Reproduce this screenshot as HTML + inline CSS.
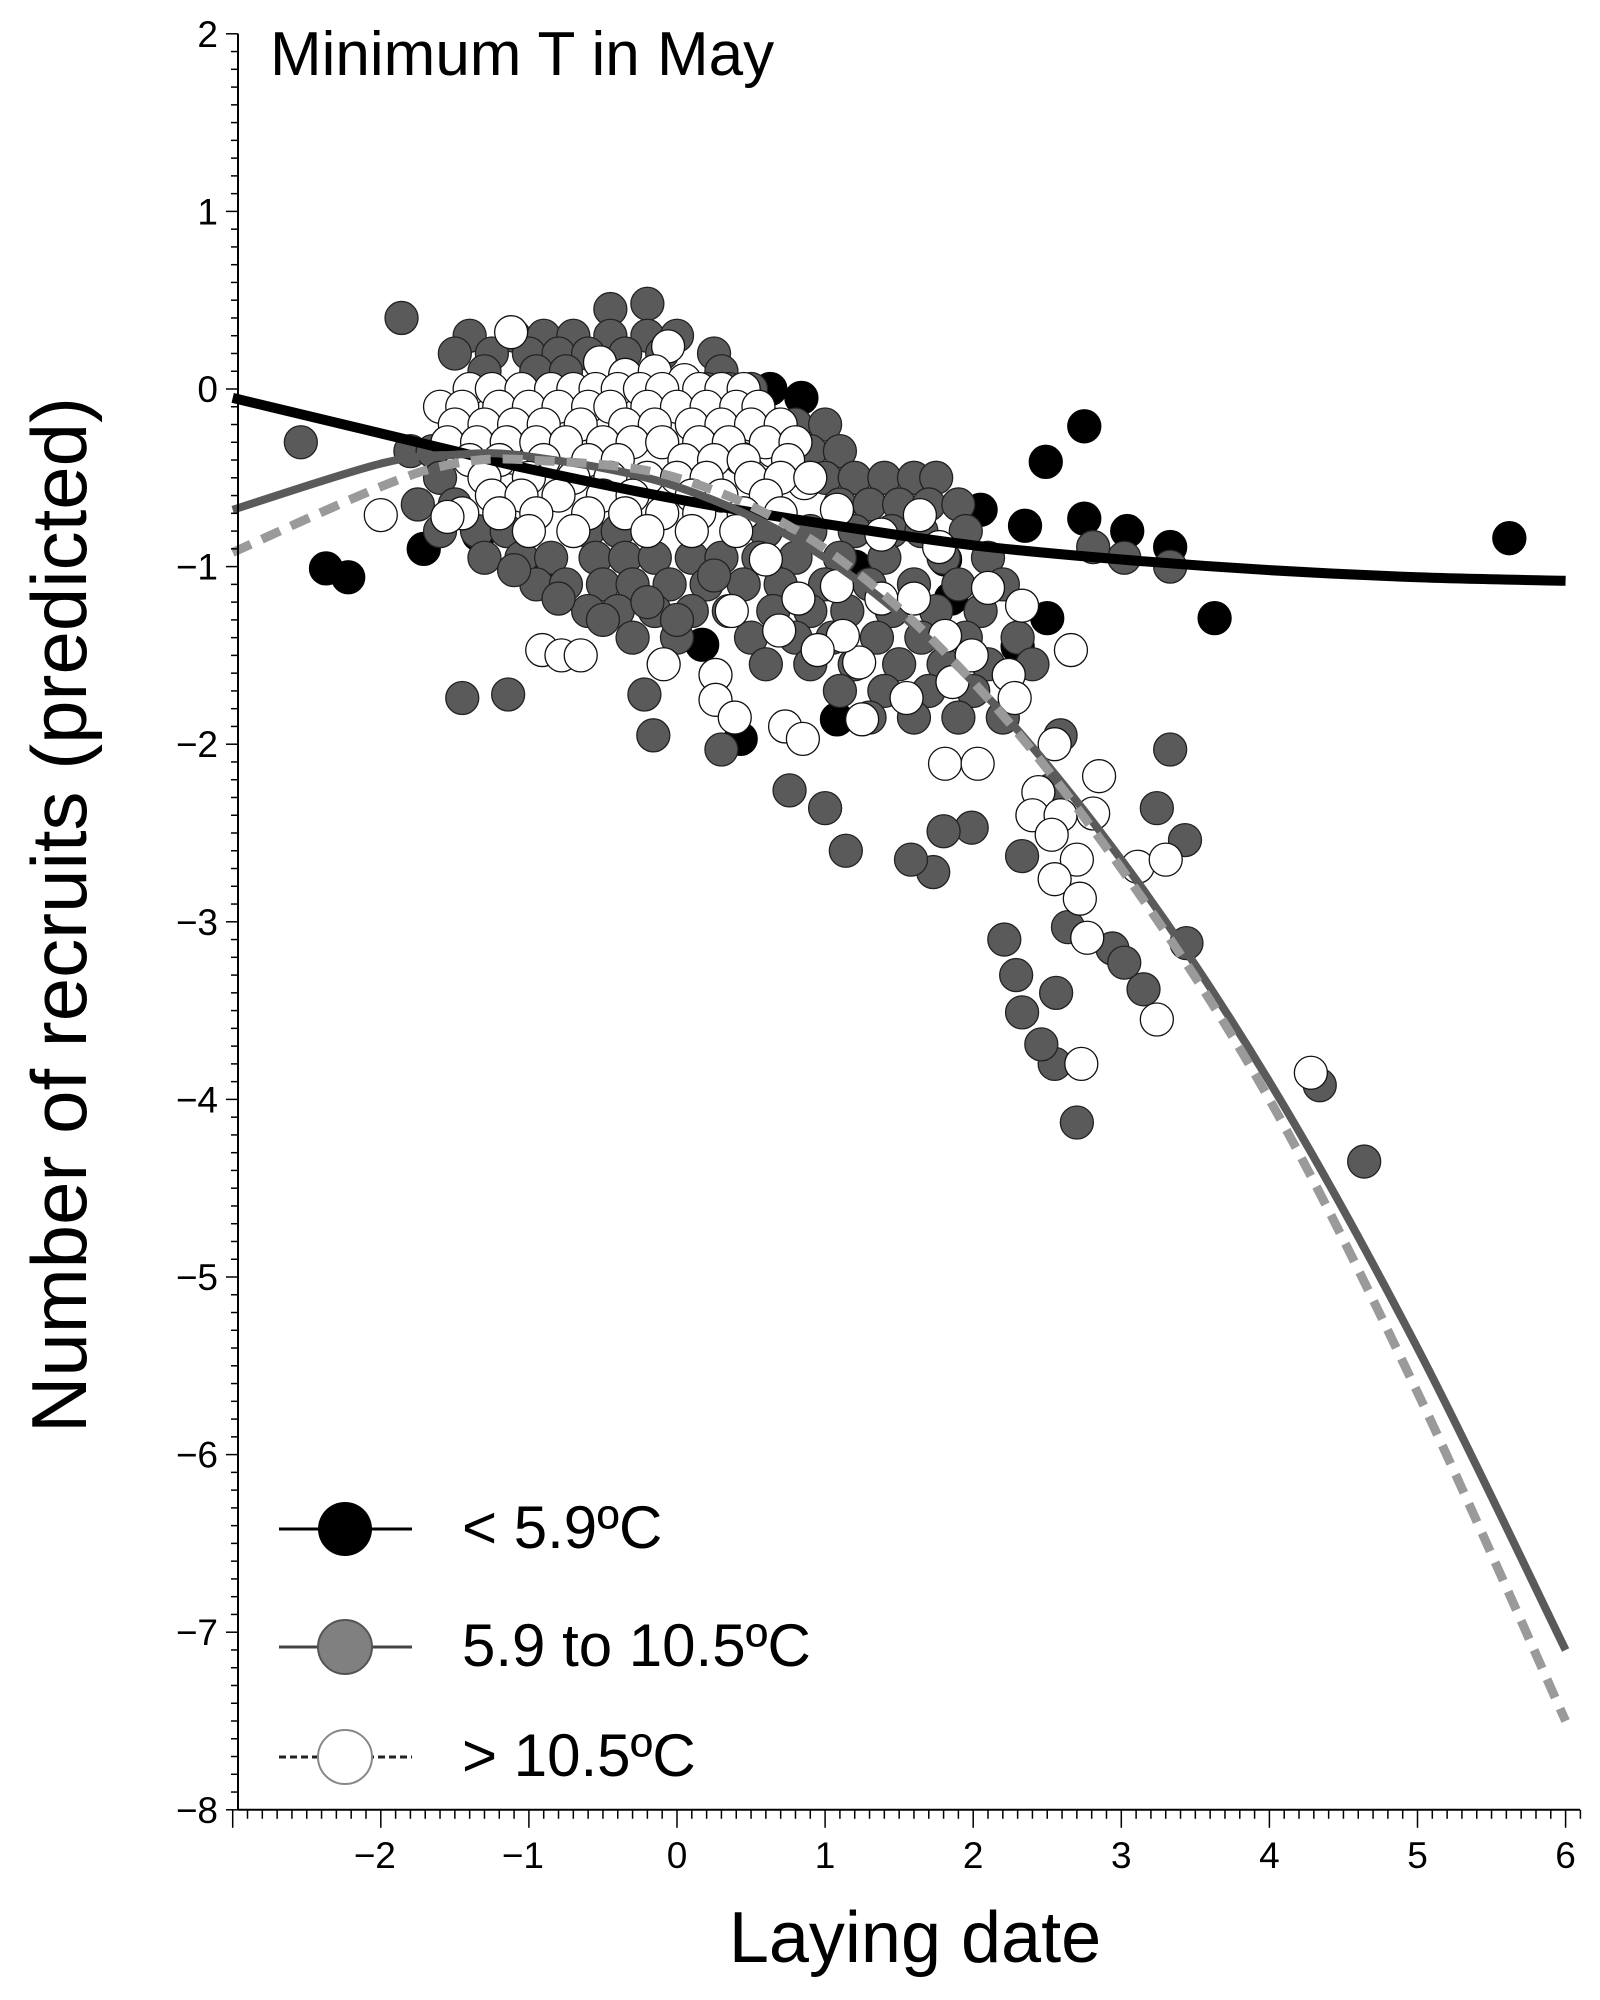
<!DOCTYPE html>
<html><head><meta charset="utf-8"><style>
html,body{margin:0;padding:0;background:#fff}
svg{display:block}
text{font-family:"Liberation Sans",sans-serif;fill:#000}
</style></head><body>
<svg id="chart" width="1600" height="2000" viewBox="0 0 1600 2000" xmlns="http://www.w3.org/2000/svg">
<g id="points"></g>
<g id="curves"></g>
<g id="axes"></g>
<text x="270" y="75" font-size="62">Minimum T in May</text>
<text transform="translate(86,915) rotate(-90)" text-anchor="middle" font-size="78">Number of recruits (predicted)</text>
<text x="915" y="1962" text-anchor="middle" font-size="72">Laying date</text>
<g>
 <g>
  <line x1="279" y1="1529" x2="412" y2="1529" stroke="#000" stroke-width="3"/>
  <circle cx="345" cy="1529" r="27" fill="#000"/>
  <text x="462" y="1548" font-size="60">&lt; 5.9ºC</text>
 </g>
 <g>
  <line x1="279" y1="1647" x2="412" y2="1647" stroke="#444" stroke-width="3"/>
  <circle cx="345" cy="1647" r="27" fill="#808080" stroke="#555" stroke-width="2"/>
  <text x="462" y="1666" font-size="60">5.9 to 10.5ºC</text>
 </g>
 <g>
  <line x1="279" y1="1757" x2="412" y2="1757" stroke="#222" stroke-width="3" stroke-dasharray="7,4"/>
  <circle cx="345" cy="1757" r="27" fill="#fff" stroke="#888" stroke-width="2"/>
  <text x="462" y="1776" font-size="60">&gt; 10.5ºC</text>
 </g>
</g>
</svg>
<script>
// ---- data ----
const coldX = [-2.37,-2.22,-1.71,0.63,0.84,2.75,2.49,2.75,2.35,3.04,3.33,3.63,5.62,2.5,2.05,0.43,0.17,1.08,1.85,-1.34,-0.91,1.81,0.35,0.55,1.2,2.3];
const coldY = [-1.01,-1.06,-0.9,0.0,-0.05,-0.21,-0.41,-0.73,-0.77,-0.8,-0.89,-1.29,-0.84,-1.29,-0.68,-1.97,-1.44,-1.86,-1.18,-0.82,-1.0,-0.96,-0.02,-0.7,-1.0,-1.45];
const midX = [-1.86,-2.54,-1.45,-1.14,4.34,4.64,2.7,2.55,2.46,2.33,2.29,2.21,2.56,2.94,3.15,3.02,3.44,3.24,3.43,3.33,2.64,2.33,1.99,1.8,1.73,1.58,1.14,1.0,0.76,0.3,-0.16,-0.22,3.02,3.33,2.81,2.52,2.59,
 -0.45,-0.2,
 -1.4,-1.1,-0.9,-0.7,-0.45,-0.2,0.0,
 -1.5,-1.25,-1.0,-0.8,-0.6,-0.35,-0.1,0.25,
 -1.3,-0.95,-0.75,0.3,
 0.2,0.35,0.5,
 0.65,0.8,1.0,
 -1.8,-1.65,0.9,1.1,
 -1.6,1.0,1.2,1.4,1.6,1.75,
 -1.75,-1.5,1.1,1.3,1.5,1.7,1.9,
 -1.6,-1.35,-1.15,-0.6,-0.4,0.6,0.9,1.2,1.45,1.65,1.95,
 -1.3,-1.05,-0.85,-0.55,-0.35,-0.15,0.1,0.3,0.55,0.8,1.1,1.4,1.8,2.1,
 -0.95,-0.75,-0.5,-0.3,-0.05,0.2,0.45,0.7,1.0,1.3,1.6,1.9,2.2,
 -0.6,-0.4,-0.15,0.1,0.35,0.65,0.9,1.15,1.45,1.75,2.05,
 -0.3,0.0,0.5,0.8,1.05,1.35,1.65,1.95,2.3,
 0.6,0.9,1.2,1.5,1.8,2.1,2.4,
 1.1,1.4,1.7,2.0,
 1.3,1.6,1.9,2.2,
 -1.1,-0.8,-0.5,-0.2,0.0,0.25];
const midY = [0.4,-0.3,-1.74,-1.72,-3.92,-4.35,-4.13,-3.8,-3.69,-3.51,-3.3,-3.1,-3.4,-3.15,-3.38,-3.23,-3.12,-2.36,-2.54,-2.03,-3.03,-2.63,-2.47,-2.49,-2.72,-2.65,-2.6,-2.36,-2.26,-2.03,-1.95,-1.72,-0.95,-1.0,-0.89,-2.26,-1.95,
 0.45,0.48,
 0.3,0.3,0.3,0.3,0.3,0.3,0.3,
 0.2,0.2,0.2,0.2,0.2,0.2,0.2,0.2,
 0.1,0.1,0.1,0.1,
 0.0,0.0,0.0,
 -0.2,-0.2,-0.2,
 -0.35,-0.35,-0.35,-0.35,
 -0.5,-0.5,-0.5,-0.5,-0.5,-0.5,
 -0.65,-0.65,-0.65,-0.65,-0.65,-0.65,-0.65,
 -0.8,-0.8,-0.8,-0.8,-0.8,-0.8,-0.8,-0.8,-0.8,-0.8,-0.8,
 -0.95,-0.95,-0.95,-0.95,-0.95,-0.95,-0.95,-0.95,-0.95,-0.95,-0.95,-0.95,-0.95,-0.95,
 -1.1,-1.1,-1.1,-1.1,-1.1,-1.1,-1.1,-1.1,-1.1,-1.1,-1.1,-1.1,-1.1,
 -1.25,-1.25,-1.25,-1.25,-1.25,-1.25,-1.25,-1.25,-1.25,-1.25,-1.25,
 -1.4,-1.4,-1.4,-1.4,-1.4,-1.4,-1.4,-1.4,-1.4,
 -1.55,-1.55,-1.55,-1.55,-1.55,-1.55,-1.55,
 -1.7,-1.7,-1.7,-1.7,
 -1.85,-1.85,-1.85,-1.85,
 -1.02,-1.18,-1.3,-1.2,-1.3,-1.05];
const warmX = [-1.12,-0.06,-0.52,-0.35,-2.0,-1.14,-0.91,-0.78,-0.65,-0.09,0.26,0.37,0.26,0.39,0.73,0.85,1.25,1.23,1.12,0.95,0.69,0.82,1.08,1.38,1.6,1.81,1.99,1.86,1.55,1.81,2.03,2.24,2.28,2.1,2.33,2.66,2.55,2.44,2.85,2.4,2.59,2.81,2.53,2.7,2.55,2.72,2.77,3.11,3.3,3.24,2.73,4.28,1.64,1.77,1.38,1.08,0.86,0.65,0.43,0.6,
 -0.15,0.05,
 -1.4,-1.25,-1.05,-0.85,-0.7,-0.55,-0.4,-0.25,-0.1,0.15,0.3,0.45,
 -1.6,-1.45,-1.2,-1.0,-0.8,-0.6,-0.45,-0.2,0.0,0.2,0.4,0.55,
 -1.5,-1.3,-1.1,-0.9,-0.65,-0.35,-0.15,0.1,0.3,0.5,0.7,
 -1.55,-1.35,-1.15,-0.95,-0.75,-0.5,-0.3,-0.1,0.15,0.35,0.6,0.8,
 -1.4,-1.2,-0.9,-0.6,-0.4,0.05,0.25,0.45,0.75,
 -1.3,-1.0,-0.7,-0.45,-0.2,0.0,0.2,0.5,0.7,0.9,
 -1.25,-1.05,-0.8,-0.5,-0.3,0.1,0.3,0.6,
 -1.45,-1.2,-0.95,-0.6,-0.35,-0.1,0.15,0.45,0.7,
 -1.0,-0.7,-0.2,0.1,0.4,-1.55];
const warmY = [0.32,0.24,0.15,0.08,-0.71,-0.57,-1.47,-1.5,-1.5,-1.55,-1.61,-1.25,-1.75,-1.85,-1.9,-1.97,-1.86,-1.54,-1.39,-1.47,-1.36,-1.18,-1.11,-1.18,-1.18,-1.39,-1.5,-1.65,-1.74,-2.11,-2.11,-1.61,-1.74,-1.12,-1.22,-1.47,-2.0,-2.27,-2.18,-2.4,-2.4,-2.39,-2.51,-2.65,-2.76,-2.87,-3.09,-2.69,-2.65,-3.55,-3.8,-3.85,-0.71,-0.89,-0.82,-0.68,-0.53,-0.35,-0.39,-0.96,
 0.1,0.05,
 0.0,0.0,0.0,0.0,0.0,0.0,0.0,0.0,0.0,0.0,0.0,0.0,
 -0.1,-0.1,-0.1,-0.1,-0.1,-0.1,-0.1,-0.1,-0.1,-0.1,-0.1,-0.1,
 -0.2,-0.2,-0.2,-0.2,-0.2,-0.2,-0.2,-0.2,-0.2,-0.2,-0.2,
 -0.3,-0.3,-0.3,-0.3,-0.3,-0.3,-0.3,-0.3,-0.3,-0.3,-0.3,-0.3,
 -0.4,-0.4,-0.4,-0.4,-0.4,-0.4,-0.4,-0.4,-0.4,
 -0.5,-0.5,-0.5,-0.5,-0.5,-0.5,-0.5,-0.5,-0.5,-0.5,
 -0.6,-0.6,-0.6,-0.6,-0.6,-0.6,-0.6,-0.6,
 -0.7,-0.7,-0.7,-0.7,-0.7,-0.7,-0.7,-0.7,-0.7,
 -0.8,-0.8,-0.8,-0.8,-0.8,-0.72];
const curveX = [-3,-2,-1.5,-1,0,1,2,3,4,5,6];
const coldCurve = [-0.05,-0.25,-0.35,-0.45,-0.62,-0.76,-0.88,-0.96,-1.02,-1.06,-1.08];
const midCurve  = [-0.68,-0.42,-0.37,-0.38,-0.55,-0.95,-1.65,-2.65,-3.9,-5.4,-7.1];
const warmCurve = [-0.92,-0.55,-0.42,-0.4,-0.5,-0.9,-1.65,-2.7,-4.0,-5.65,-7.5];
const yTicks = [2,1,0,-1,-2,-3,-4,-5,-6,-7,-8];
const xTicks = [-2,-1,0,1,2,3,4,5,6];

// ---- scales ----
const NS='http://www.w3.org/2000/svg';
function sx(v){return 677+148.1*v;}
function sy(v){return 389-177.6*v;}
function mk(tag,attrs,parent){const e=document.createElementNS(NS,tag);for(const k in attrs)e.setAttribute(k,attrs[k]);parent.appendChild(e);return e;}

const pts=document.getElementById('points');
function drawPts(xs,ys,fill,stroke,name){
  for(let i=0;i<xs.length;i++){
    const c=mk('circle',{cx:sx(xs[i]),cy:sy(ys[i]),r:16.5,fill:fill,stroke:stroke,'stroke-width':1.3},pts);
    
    
  }
}
drawPts(coldX,coldY,'#000','#000','point-cold');
drawPts(midX,midY,'#5a5a5a','#222','point-mid');
drawPts(warmX,warmY,'#fff','#111','point-warm');

const cg=document.getElementById('curves');
function smoothPath(xs,ys){
  const P=xs.map((x,i)=>[sx(x),sy(ys[i])]);
  let d='M'+P[0][0]+','+P[0][1];
  for(let i=0;i<P.length-1;i++){
    const p0=P[Math.max(0,i-1)],p1=P[i],p2=P[i+1],p3=P[Math.min(P.length-1,i+2)];
    const c1=[p1[0]+(p2[0]-p0[0])/6,p1[1]+(p2[1]-p0[1])/6];
    const c2=[p2[0]-(p3[0]-p1[0])/6,p2[1]-(p3[1]-p1[1])/6];
    d+=' C'+c1+' '+c2+' '+p2;
  }
  return d;
}
const l1=mk('path',{d:smoothPath(curveX,coldCurve),fill:'none',stroke:'#000','stroke-width':10},cg);


const l2=mk('path',{d:smoothPath(curveX,midCurve),fill:'none',stroke:'#5a5a5a','stroke-width':8},cg);


const l3=mk('path',{d:smoothPath(curveX,warmCurve),fill:'none',stroke:'#9a9a9a','stroke-width':9,'stroke-dasharray':'20,12'},cg);



const ax=document.getElementById('axes');
mk('line',{x1:238,y1:sy(2),x2:238,y2:sy(-8),stroke:'#000','stroke-width':2},ax);
mk('line',{x1:238,y1:sy(-8),x2:1580,y2:sy(-8),stroke:'#000','stroke-width':2},ax);
for(let k=-80;k<=20;k++){
  const v=k/10,maj=k%10===0;
  mk('line',{x1:238-(maj?12:7),y1:sy(v),x2:238,y2:sy(v),stroke:'#000','stroke-width':1.5},ax);
}
for(let k=-30;k<=61;k++){
  const v=k/10,maj=k%10===0;
  mk('line',{x1:sx(v),y1:sy(-8),x2:sx(v),y2:sy(-8)+(maj?18:9),stroke:'#000','stroke-width':1.5},ax);
}
yTicks.forEach(v=>{
  const t=mk('text',{x:218,y:sy(v)+13,'text-anchor':'end','font-size':37},ax);
  t.textContent=(v<0?'\u2212':'')+Math.abs(v);
  
  
});
xTicks.forEach(v=>{
  const t=mk('text',{x:sx(v)-(v<0?6:0),y:1868,'text-anchor':'middle','font-size':37},ax);
  t.textContent=(v<0?'\u2212':'')+Math.abs(v);
  
  
});
</script>
</body></html>
